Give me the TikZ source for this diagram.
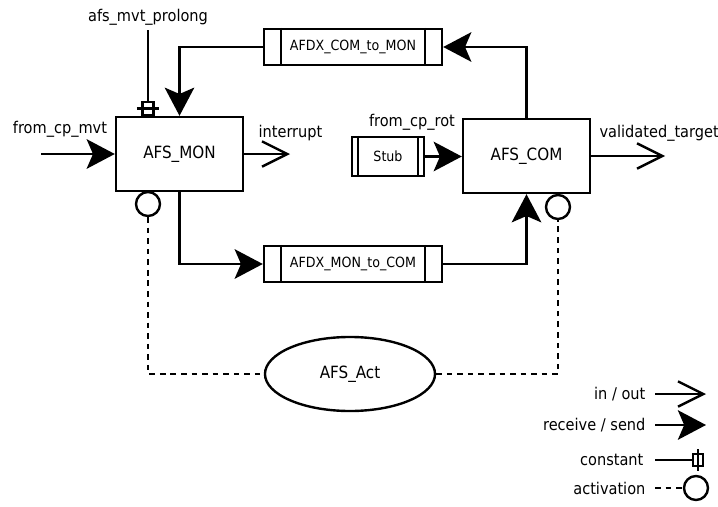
\documentclass[tikz,border=0pt]{standalone}
\usepackage{fontspec}
\setmainfont{DejaVu Sans Condensed}
\usetikzlibrary{arrows.meta,positioning,shapes.geometric}

\begin{document}
\begin{tikzpicture}[x=0.025cm, y=-0.025cm, line width=1.7pt,
		block/.style={draw, rectangle, fill=white, minimum width=3.175cm, minimum height=1.85cm, font=\fontsize{12}{14}\selectfont},
		channel/.style={draw, rectangle, fill=white, minimum width=4.45cm, minimum height=0.9cm, font=\fontsize{10}{12}\selectfont},
		lbl/.style={font=\fontsize{11.5}{13}\selectfont, inner sep=1pt},
		actcirc/.style={draw, circle, minimum size=0.6cm, inner sep=0pt},
		recv/.style={-{Stealth[length=20pt, width=21pt, inset=4.5pt]}},
		inout/.style={-{Straight Barb[length=18pt, width=18pt]}},
		actline/.style={dashed, dash pattern=on 4pt off 3.5pt}]
		\useasboundingbox (0, 0) rectangle (718, 507);

		\node[block] at (179.5, 154) (mon) {AFS\_MON};
		\node[block] at (526.5, 156) (com) {AFS\_COM};

		\node[channel] at (353, 47) (c2m) {AFDX\_COM\_to\_MON};
		\node[channel] at (353, 264) (m2c) {AFDX\_MON\_to\_COM};
		\foreach \ch in {c2m, m2c} {
			\draw ([xshift=0.45cm]\ch.north west) -- ([xshift=0.45cm]\ch.south west);
			\draw ([xshift=-0.45cm]\ch.north east) -- ([xshift=-0.45cm]\ch.south east);
		}

		\node[draw, rectangle, minimum width=1.8cm, minimum height=0.975cm, font=\fontsize{10}{12}\selectfont] at (388, 156.5) (stub) {Stub};
		\draw ([xshift=0.175cm]stub.north west) -- ([xshift=0.175cm]stub.south west);
		\draw ([xshift=-0.175cm]stub.north east) -- ([xshift=-0.175cm]stub.south east);

		\node[draw, ellipse, minimum width=4.25cm, minimum height=1.85cm, font=\fontsize{12}{14}\selectfont] at (350, 374) (act) {AFS\_Act};

		\node[actcirc] at (148, 204) (actmon) {};
		\node[actcirc] at (558, 207) (actcom) {};

		\node[draw, rectangle, minimum width=0.275cm, minimum height=0.325cm, inner sep=0pt] at (148, 108.5) (cstmon) {};
		\draw ([xshift=-0.275cm]cstmon.center) -- ([xshift=0.275cm]cstmon.center);
		\coordinate (cstin) at (148, 30);
		\draw (cstin) -- (cstmon.north);
		\node[lbl] at (148, 17) (cstlbl) {afs\_mvt\_prolong};

		\coordinate (mvtin) at (41, 154);
		\coordinate (intout) at (290, 154);
		\coordinate (valout) at (665, 156);
		\draw[recv] (mvtin) -- (mon.west);
		\draw[inout] (mon.east) -- (intout);
		\draw[inout] (com.east) -- (valout);
		\draw[recv] (stub.east) -- (stub.east -| com.west);

		\draw[recv] (com.north) |- (c2m.east);
		\draw[recv] (c2m.west) -| (mon.north);
		\draw[recv] (mon.south) |- (m2c.west);
		\draw[recv] (m2c.east) -| (com.south);

		\draw[actline] (actmon.south) |- (act.west);
		\draw[actline] (act.east) -| (actcom.south);

		\node[lbl] at (60, 129) (mvtlbl) {from\_cp\_mvt};
		\node[lbl, anchor=west] at (256, 133) (intlbl) {interrupt};
		\node[lbl] at (412, 122) (rotlbl) {from\_cp\_rot};
		\node[lbl, anchor=west] at (597, 133) (vallbl) {validated\_target};

		\node[lbl, anchor=east] at (648, 394) (leginout) {in / out};
		\node[lbl, anchor=east] at (648, 425) (legrecv) {receive / send};
		\node[lbl, anchor=east] at (646, 460) (legcst) {constant};
		\node[lbl, anchor=east] at (648, 488) (legact) {activation};

		\coordinate (inoutend) at (706, 394);
		\coordinate (recvend) at (706, 425);
		\draw[inout] (leginout.east) ++(7, 0) -- (inoutend);
		\draw[recv] (legrecv.east) ++(7, 0) -- (recvend);

		\node[draw, rectangle, minimum width=0.25cm, minimum height=0.3cm, inner sep=0pt] at (698, 460) (legcstbox) {};
		\draw ([yshift=0.275cm]legcstbox.center) -- ([yshift=-0.275cm]legcstbox.center);
		\draw (legcst.east) ++(9, 0) -- (legcstbox.west);

		\node[actcirc] at (696, 488) (legcirc) {};
		\draw[actline] (legact.east) ++(7, 0) -- (legcirc.west);
	\end{tikzpicture}
\end{document}
